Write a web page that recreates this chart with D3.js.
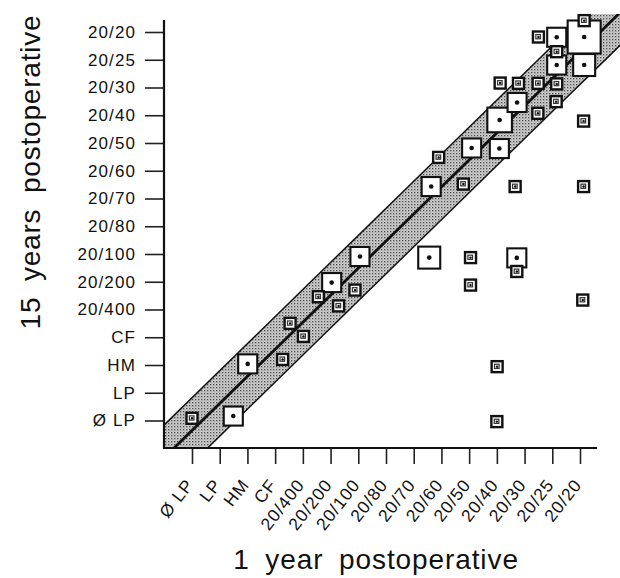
<!DOCTYPE html>
<html>
<head>
<meta charset="utf-8">
<script src="https://cdn.jsdelivr.net/npm/d3@7"></script>
<style>
  body { margin: 0; background: #fff; }
  svg text { font-family: "Liberation Sans", Arial, Helvetica, sans-serif; fill: #111; }
</style>
</head>
<body>
<svg id="chart"></svg>
<script>
// acuity levels, worst to best (same on both axes)
const levels = ["Ø LP", "LP", "HM", "CF", "20/400", "20/200", "20/100", "20/80",
  "20/70", "20/60", "20/50", "20/40", "20/30", "20/25", "20/20"];

// each square: acuity at 1 year (x) and 15 years (y), as level positions, and number of eyes
const oneYear = [0.0, 1.49, 2.01, 3.27, 3.54, 4.02, 4.56, 5.04, 5.29, 5.88, 6.06,
  8.56, 10.05, 10.05, 11.72, 11.72, 14.1, 11.01, 11.0, 8.9, 8.63, 9.79, 10.09,
  11.09, 11.66, 14.13, 11.1, 11.73, 14.13, 12.48, 13.14, 11.12, 11.78, 12.49,
  13.16, 13.16, 14.15, 13.16, 12.5, 13.16, 14.15, 14.15];
const fifteenYears = [0.08, 0.16, 2.04, 2.2, 3.5, 3.03, 4.46, 4.97, 4.13, 4.7, 5.91,
  5.87, 5.87, 4.88, 5.86, 5.37, 4.34, 1.94, -0.04, 9.48, 8.43, 8.52, 9.82,
  9.8, 8.43, 8.43, 10.83, 11.46, 10.79, 11.07, 11.49, 12.16, 12.15, 12.15,
  12.13, 12.81, 12.81, 13.29, 13.82, 13.81, 13.82, 14.41];
const eyes = [1, 3, 3, 1, 1, 1, 1, 3, 1, 1, 3,
  4, 1, 1, 3, 1, 1, 1, 1, 1, 3, 1, 3,
  3, 1, 1, 5, 3, 1, 1, 1, 1, 1, 1,
  1, 3, 4, 1, 1, 3, 9, 1];

// reference band around the line of no change: [slope, intercept, half width]
const noChange = [0.975, -0.36, 1.18];

const width = 620;
const height = 578;

const svg = d3.select("#chart").attr("width", width).attr("height", height);

const xScale = d3.scaleLinear().domain([0, 14]).range([192, 580]);
const yScale = d3.scaleLinear().domain([0, 14]).range([420.5, 32]);

const axisX = 164;
const axisY = 448;

// stippled fill for the band
const defs = svg.append("defs");
const pat = defs.append("pattern")
  .attr("id", "stipple")
  .attr("width", 3).attr("height", 3)
  .attr("patternUnits", "userSpaceOnUse");
pat.append("rect").attr("width", 3).attr("height", 3).attr("fill", "#cfcfcf");
pat.append("rect").attr("width", 1.3).attr("height", 1.3).attr("fill", "#4a4a4a");
pat.append("rect").attr("x", 1.5).attr("y", 1.5).attr("width", 1).attr("height", 1).attr("fill", "#8a8a8a");

defs.append("clipPath").attr("id", "plotClip")
  .append("rect")
  .attr("x", axisX).attr("y", 14)
  .attr("width", width - axisX).attr("height", axisY - 14);

const [slope, icpt, half] = noChange;
const bx = [-2, 17];
const line = (off) => bx.map((x) => [xScale(x), yScale(icpt + off + slope * x)]);

const band = svg.append("g").attr("clip-path", "url(#plotClip)");
const upper = line(half);
const lower = line(-half);
band.append("path")
  .attr("d", d3.line()([...upper, ...lower.reverse()]) + "Z")
  .attr("fill", "url(#stipple)");
band.append("path").attr("d", d3.line()(line(half)))
  .attr("stroke", "#111").attr("stroke-width", 1.5).attr("fill", "none");
band.append("path").attr("d", d3.line()(line(-half)))
  .attr("stroke", "#111").attr("stroke-width", 1.5).attr("fill", "none");
band.append("path").attr("d", d3.line()(line(0)))
  .attr("stroke", "#111").attr("stroke-width", 2.8).attr("fill", "none");

// axes
const yAxis = d3.axisLeft(yScale)
  .tickValues(d3.range(levels.length))
  .tickFormat((i) => levels[i])
  .tickSize(19)
  .tickPadding(9);

const gy = svg.append("g").attr("transform", `translate(${axisX},0)`).call(yAxis);
gy.select(".domain").remove();
gy.selectAll("line").attr("stroke", "#222").attr("stroke-width", 1.6);
gy.selectAll("text")
  .style("font-size", "17px")
  .style("letter-spacing", "1.1px")
  .attr("font-family", null);

const xAxis = d3.axisBottom(xScale)
  .tickValues(d3.range(levels.length))
  .tickFormat((i) => levels[i])
  .tickSize(16);

const gx = svg.append("g").attr("transform", `translate(0,${axisY})`).call(xAxis);
gx.select(".domain").remove();
gx.selectAll("line").attr("stroke", "#222").attr("stroke-width", 1.6);
gx.selectAll("text")
  .attr("x", 0).attr("y", 0).attr("dy", 0)
  .attr("text-anchor", "end")
  .attr("transform", "translate(2,37) rotate(-52)")
  .style("font-size", "17.5px")
  .style("letter-spacing", "0.9px")
  .attr("font-family", null);

svg.append("line")
  .attr("x1", axisX).attr("x2", axisX).attr("y1", 20).attr("y2", axisY + 1)
  .attr("stroke", "#111").attr("stroke-width", 2.2);
svg.append("line")
  .attr("x1", axisX - 1).attr("x2", 597).attr("y1", axisY).attr("y2", axisY)
  .attr("stroke", "#111").attr("stroke-width", 2.2);

// squares, biggest first so small ones sit on top
const size = d3.scaleSqrt().domain([0, 9]).range([0, 33]);
const pts = oneYear.map((x, i) => ({ x, y: fifteenYears[i], n: eyes[i] }))
  .sort((a, b) => b.n - a.n);

const marks = svg.append("g").selectAll("g").data(pts).enter().append("g")
  .attr("transform", (d) => `translate(${xScale(d.x)},${yScale(d.y)})`);

marks.append("rect")
  .attr("x", (d) => -size(d.n) / 2)
  .attr("y", (d) => -size(d.n) / 2)
  .attr("width", (d) => size(d.n))
  .attr("height", (d) => size(d.n))
  .attr("fill", "#fff")
  .attr("stroke", "#111")
  .attr("stroke-width", (d) => (d.n === 1 ? 2.4 : 2.1));

// centre mark: a dark fleck in the small squares, a dot in the bigger ones
marks.filter((d) => d.n === 1).append("rect")
  .attr("x", -2.6).attr("y", -2.4).attr("width", 4.6).attr("height", 4.2)
  .attr("fill", "none").attr("stroke", "#333").attr("stroke-width", 1.2);
marks.append("circle")
  .attr("r", (d) => (d.n === 1 ? 1.2 : 2.3))
  .attr("fill", "#111");

// titles
svg.append("text")
  .attr("transform", "translate(40,172) rotate(-90)")
  .attr("text-anchor", "middle")
  .style("font-size", "28px")
  .style("word-spacing", "7px")
  .style("letter-spacing", "0.8px")
  .text("15 years postoperative");

svg.append("text")
  .attr("x", 376).attr("y", 569)
  .attr("text-anchor", "middle")
  .style("font-size", "28px")
  .style("word-spacing", "7px")
  .style("letter-spacing", "0.9px")
  .text("1 year postoperative");
</script>
</body>
</html>
